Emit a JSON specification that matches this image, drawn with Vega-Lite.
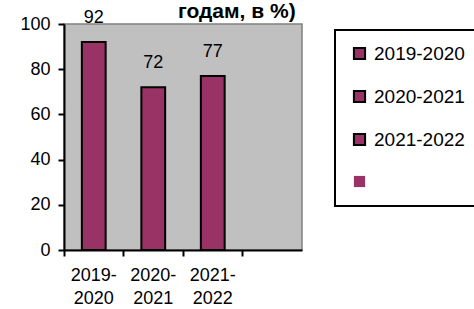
{
  "$schema": "https://vega.github.io/schema/vega-lite/v6.json",
  "width": 238,
  "height": 226,
  "autosize": {"type": "none"},
  "padding": {"left": 64, "top": 24, "right": 172, "bottom": 59},
  "background": "white",
  "title": {
    "text": "годам, в %)",
    "anchor": "start",
    "frame": "group",
    "dx": 114,
    "dy": 41,
    "fontSize": 21,
    "fontWeight": "bold",
    "font": "Liberation Sans",
    "color": "black",
    "baseline": "alphabetic",
    "offset": 11
  },
  "data": {
    "values": [
      {"year": "2019-2020", "value": 92},
      {"year": "2020-2021", "value": 72},
      {"year": "2021-2022", "value": 77}
    ]
  },
  "encoding": {
    "x": {
      "field": "year",
      "type": "nominal",
      "scale": {"domain": ["2019-2020", "2020-2021", "2021-2022", " "], "paddingInner": 0, "paddingOuter": 0},
      "axis": {
        "title": null,
        "labelAngle": 0,
        "bandPosition": 0,
        "labelExpr": "datum.label == ' ' ? '' : [slice(datum.label, 0, 5), slice(datum.label, 5)]",
        "labelLineHeight": 23,
        "labelFont": "Liberation Sans",
        "labelFontSize": 18,
        "labelColor": "black",
        "labelPadding": 10,
        "domainColor": "black",
        "domainWidth": 2,
        "tickColor": "black",
        "tickWidth": 2,
        "tickSize": 6
      }
    },
    "y": {
      "field": "value",
      "type": "quantitative",
      "scale": {"domain": [0, 100]},
      "axis": {
        "title": null,
        "values": [0, 20, 40, 60, 80, 100],
        "grid": false,
        "labelFont": "Liberation Sans",
        "labelFontSize": 18,
        "labelColor": "black",
        "labelPadding": 8,
        "domainColor": "black",
        "domainWidth": 2,
        "tickColor": "black",
        "tickWidth": 2,
        "tickSize": 6
      }
    }
  },
  "layer": [
    {
      "mark": {"type": "bar", "width": {"band": 0.4}, "stroke": "black", "strokeWidth": 2},
      "encoding": {
        "fill": {
          "field": "year",
          "type": "nominal",
          "scale": {"domain": ["2019-2020", "2020-2021", "2021-2022", " "], "range": ["#993366", "#993366", "#993366", "#993366"]},
          "legend": {
            "title": null,
            "orient": "none",
            "legendX": 271,
            "legendY": 6,
            "strokeColor": "black",
            "padding": 14,
            "symbolType": "square",
            "symbolSize": 125,
            "symbolStrokeColor": "black",
            "symbolStrokeWidth": 2,
            "symbolOpacity": 1,
            "symbolOffset": 1,
            "labelFont": "Liberation Sans",
            "labelFontSize": 19,
            "labelColor": "black",
            "labelOffset": 5,
            "rowPadding": 22,
            "encode": {
              "legend": {"update": {"strokeWidth": {"value": 2}}},
              "symbols": {"update": {"strokeWidth": {"signal": "datum.value == ' ' ? 0 : 2"}}}
            }
          }
        }
      }
    },
    {
      "mark": {"type": "text", "dy": -24, "fontSize": 18, "font": "Liberation Sans", "color": "black"},
      "encoding": {"text": {"field": "value", "type": "quantitative"}}
    }
  ],
  "config": {"view": {"fill": "#C0C0C0", "stroke": "#808080", "strokeWidth": 1.5}}
}
